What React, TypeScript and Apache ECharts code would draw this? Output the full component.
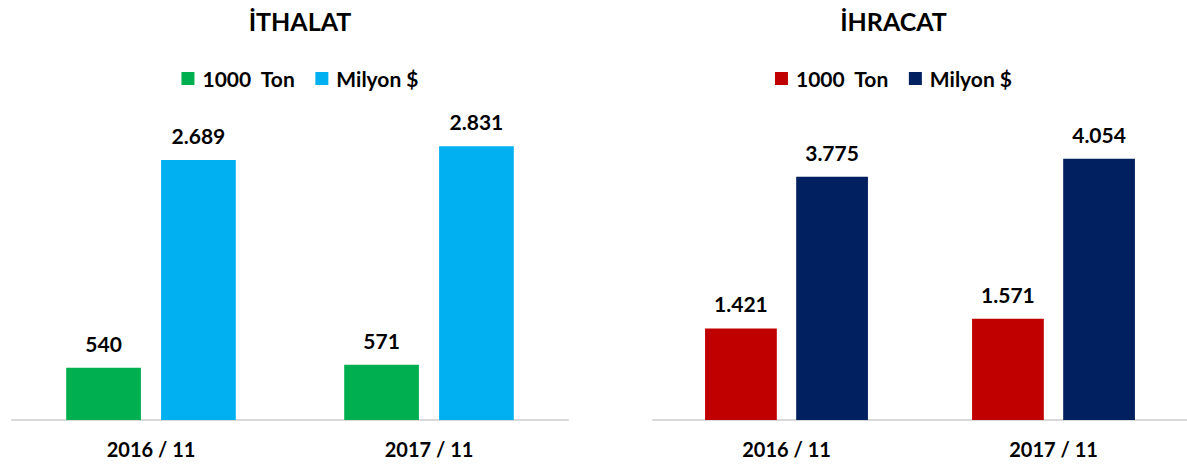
import React, { useEffect, useRef } from "react";
import * as echarts from "echarts";

const categories = ["2016 / 11", "2017 / 11"];
const seriesNames = ["1000  Ton", "Milyon $"];
const importTon = [540, 571];
const importUsd = [2689, 2831];
const exportTon = [1421, 1571];
const exportUsd = [3775, 4054];

const FONT = "Lato, 'Open Sans', sans-serif";

const fmt = (v: number) => String(v).replace(/\B(?=(\d{3})+(?!\d))/g, ".");

function makeOption(
  title: string,
  a: number[],
  b: number[],
  colors: string[],
  max: number,
  grid: any
) {
  const mk = (name: string, data: number[], color: string) => ({
    name,
    type: "bar",
    data,
    barGap: "27%",
    barCategoryGap: "39%",
    itemStyle: { color },
    label: {
      show: true,
      position: "top",
      distance: 14,
      color: "#000",
      fontFamily: FONT,
      fontWeight: "bold",
      fontSize: 21,
      formatter: (p: any) => fmt(p.value),
    },
  });
  return {
    animation: false,
    title: {
      text: title,
      left: "center",
      top: 3,
      textStyle: { fontFamily: FONT, fontWeight: "bold", fontSize: 25, color: "#000" },
    },
    legend: {
      top: 63,
      left: "center",
      icon: "rect",
      itemWidth: 13,
      itemHeight: 13,
      itemGap: 20,
      textStyle: {
        fontFamily: FONT,
        fontWeight: "bold",
        fontSize: 21,
        color: "#000",
        padding: [0, 0, 0, 3],
      },
      data: seriesNames,
    },
    grid,
    xAxis: {
      type: "category",
      data: categories,
      axisLine: { lineStyle: { color: "#D9D9D9", width: 2 } },
      axisTick: { show: false },
      axisLabel: {
        color: "#000",
        fontFamily: FONT,
        fontWeight: "bold",
        fontSize: 20,
        margin: 19,
      },
    },
    yAxis: {
      type: "value",
      min: 0,
      max,
      show: false,
      splitLine: { show: false },
    },
    series: [mk(seriesNames[0], a, colors[0]), mk(seriesNames[1], b, colors[1])],
  };
}

function Chart({ option, style }: { option: any; style: React.CSSProperties }) {
  const ref = useRef<HTMLDivElement>(null);
  useEffect(() => {
    if (!ref.current) return;
    const c = echarts.init(ref.current, undefined, { renderer: "svg" });
    c.setOption(option);
    return () => c.dispose();
  }, []);
  return <div ref={ref} style={style} />;
}

export default function App() {
  const leftOpt = makeOption(
    "İTHALAT",
    importTon,
    importUsd,
    ["#00B050", "#00B0F0"],
    3000,
    { left: 12, right: 32, top: 130, bottom: 47 }
  );
  const rightOpt = makeOption(
    "İHRACAT",
    exportTon,
    exportUsd,
    ["#C00000", "#002060"],
    4500,
    { left: 53, right: 0, top: 130, bottom: 47 }
  );
  return (
    <div style={{ position: "fixed", left: 0, top: 0, width: 1187, height: 467, background: "#fff" }}>
      <Chart option={leftOpt} style={{ position: "absolute", left: 0, top: 0, width: 600, height: 467 }} />
      <Chart option={rightOpt} style={{ position: "absolute", left: 600, top: 0, width: 587, height: 467 }} />
    </div>
  );
}
